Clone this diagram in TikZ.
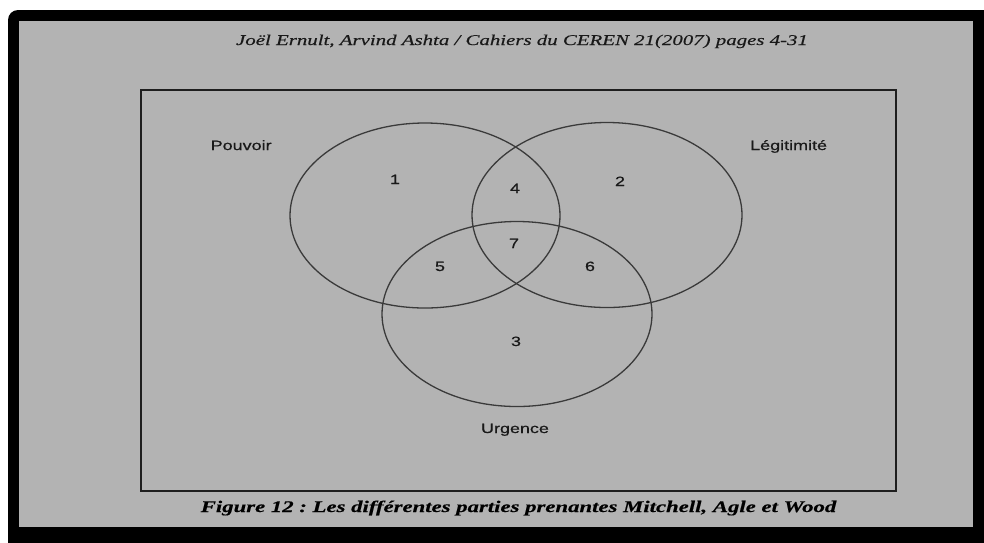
\documentclass[tikz,border=0pt]{standalone}
\usepackage{fontspec}
\setmainfont{Liberation Serif}
\newfontfamily\labelfont[FakeStretch=1.33,FakeBold=0.6]{Liberation Sans}
\newfontfamily\headfont[FakeStretch=1.4,FakeBold=0.4]{Liberation Serif}
\usetikzlibrary{shapes.geometric}
\definecolor{pagegray}{HTML}{B3B3B3}
\definecolor{ringgray}{HTML}{3A3A3A}
\definecolor{framedark}{HTML}{1E1E1E}
\frenchspacing
\begin{document}
\begin{tikzpicture}[x=1pt,y=-1pt,
  ring/.style={draw=ringgray,line width=1.3pt,ellipse,inner sep=0pt,
    minimum width=270pt,minimum height=185pt},
  setlabel/.style={font=\labelfont\fontsize{13.5}{16}\selectfont,text=black!90,inner sep=0pt},
  region/.style={font=\labelfont\fontsize{13.5}{16}\selectfont,text=black!90,inner sep=0pt,anchor=base}]
  \clip (0,0) rectangle (984,542);
  \fill[white] (0,0) rectangle (984,542);
  % black outer frame and gray page
  \fill[black,rounded corners=10pt] (8,10) rectangle (1000,560);
  \fill[pagegray] (19,21) rectangle (973,527);
  % header line
  \node[anchor=base,inner sep=0pt,text=black!90,font=\headfont\itshape\fontsize{14.9}{18}\selectfont]
    (head) at (522,45) {Joël Ernult, Arvind Ashta / Cahiers du CEREN 21(2007) pages 4-31};
  % figure frame
  \draw[framedark,line width=2pt] (141,90) rectangle (896,491);
  % the three sets
  \node[ring] (pouvoir) at (425,215.5) {};
  \node[ring] (legit) at (607,215) {};
  \node[ring] (urg) at (517,314) {};
  % set names
  \node[setlabel,anchor=base west] (lp) at (210.5,150) {Pouvoir};
  \node[setlabel,anchor=base west] (ll) at (750,150) {Légitimité};
  \node[setlabel,anchor=base] (lu) at (515,433) {Urgence};
  % region numbers
  \node[region] (r1) at (395,184) {1};
  \node[region] (r2) at (620,186) {2};
  \node[region] (r4) at (515,193) {4};
  \node[region] (r7) at (514,248) {7};
  \node[region] (r5) at (440,271) {5};
  \node[region] (r6) at (590,271) {6};
  \node[region] (r3) at (516,346) {3};
  % caption
  \node[anchor=base,inner sep=0pt,text=black,font=\headfont\bfseries\itshape\fontsize{16.25}{19}\selectfont]
    (cap) at (518.5,512) {Figure 12 : Les différentes parties prenantes Mitchell, Agle et Wood};
\end{tikzpicture}
\end{document}
